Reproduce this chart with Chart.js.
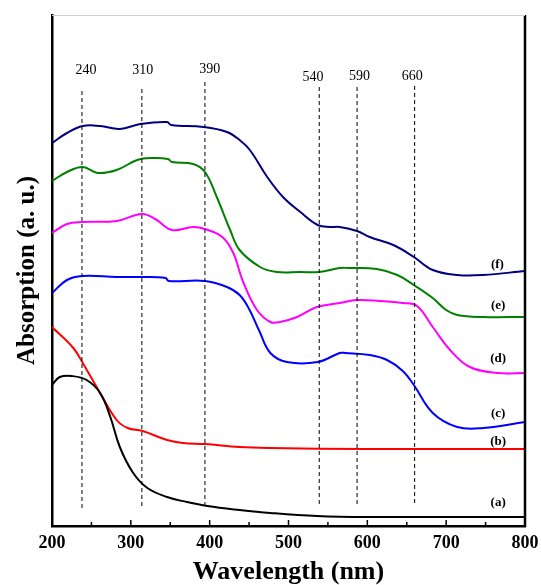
<!DOCTYPE html>
<html>
<head>
<meta charset="utf-8">
<script src="https://cdn.jsdelivr.net/npm/chart.js@4/dist/chart.umd.min.js"></script>
<style>
  html, body { margin: 0; padding: 0; background: #fff; }
  #wrap { width: 541px; height: 585px; }
</style>
</head>
<body>
<div id="wrap"><canvas id="absChart" width="541" height="585"></canvas></div>
<script>
// spectra (wavelength nm, absorption a.u.)
const wlA = [200, 210, 225, 244, 261, 274, 286, 303, 321, 346, 371, 397, 438, 477, 536, 600, 800];
const absA = [1.41, 1.49, 1.50, 1.46, 1.33, 1.09, 0.79, 0.53, 0.38, 0.29, 0.24, 0.20, 0.16, 0.13, 0.10, 0.09, 0.09];

const wlB = [200, 227, 239, 261, 282, 296, 315, 346, 366, 394, 438, 477, 600, 800];
const absB = [1.99, 1.78, 1.63, 1.33, 1.06, 0.98, 0.95, 0.86, 0.83, 0.82, 0.79, 0.78, 0.77, 0.77];

const wlC = [200, 219, 239, 282, 314, 344, 348, 394, 422, 438, 450, 463, 477, 498, 537, 565, 572, 603, 625, 645, 659, 683, 714, 747, 800];
const absC = [2.33, 2.46, 2.50, 2.49, 2.49, 2.48, 2.45, 2.45, 2.39, 2.31, 2.17, 1.95, 1.73, 1.64, 1.64, 1.73, 1.73, 1.71, 1.66, 1.55, 1.41, 1.13, 0.99, 0.98, 1.04];

const wlD = [200, 219, 239, 282, 314, 331, 352, 379, 394, 416, 430, 442, 460, 477, 489, 511, 536, 565, 587, 616, 645, 663, 683, 705, 730, 765, 800];
const absD = [2.93, 3.02, 3.04, 3.05, 3.12, 3.07, 2.96, 2.99, 2.97, 2.89, 2.73, 2.45, 2.16, 2.04, 2.04, 2.09, 2.19, 2.23, 2.26, 2.25, 2.23, 2.20, 1.99, 1.76, 1.59, 1.53, 1.53];

const wlE = [200, 219, 239, 258, 282, 308, 328, 347, 352, 379, 394, 409, 426, 438, 464, 485, 515, 539, 565, 576, 612, 638, 659, 683, 700, 714, 747, 800];
const absE = [3.45, 3.54, 3.59, 3.53, 3.56, 3.66, 3.68, 3.67, 3.64, 3.62, 3.54, 3.29, 2.96, 2.76, 2.59, 2.54, 2.54, 2.54, 2.58, 2.58, 2.57, 2.51, 2.41, 2.28, 2.16, 2.11, 2.09, 2.09];

const wlF = [200, 219, 239, 261, 286, 312, 346, 351, 392, 422, 438, 451, 473, 493, 515, 537, 553, 565, 587, 603, 633, 659, 683, 714, 747, 800];
const absF = [3.83, 3.93, 4.00, 4.00, 3.97, 4.02, 4.04, 4.01, 3.99, 3.94, 3.86, 3.76, 3.49, 3.29, 3.14, 3.01, 2.99, 2.99, 2.95, 2.89, 2.81, 2.69, 2.56, 2.51, 2.51, 2.55];

const curveNames = ['(a)', '(b)', '(c)', '(d)', '(e)', '(f)'];
const curveColors = ['#000000', '#ff0000', '#0000ff', '#ff00ff', '#008000', '#000080'];
const curveLabelX = [766, 766, 766, 766, 766, 765];
const curveLabelY = [0.23, 0.84, 1.12, 1.67, 2.20, 2.61];

// marked peaks: dashed guide lines and their labels
const peakLabels = ['240', '310', '390', '540', '590', '660'];
const peakLineX = [238, 314, 394, 539, 587, 660];
const peakTop = [4.36, 4.38, 4.46, 4.39, 4.39, 4.41];
const peakBottom = [0.18, 0.20, 0.20, 0.22, 0.22, 0.23];
const peakLabelX = [243, 315, 400, 531, 590, 657];
const peakLabelY = [4.56, 4.56, 4.57, 4.49, 4.50, 4.50];

const xTicks = [200, 300, 400, 500, 600, 700, 800];

const SERIF = '"Liberation Serif", "Times New Roman", serif';

const toPts = (xs, ys) => xs.map((x, i) => ({ x: x, y: ys[i] }));

const spectra = [
  toPts(wlA, absA), toPts(wlB, absB), toPts(wlC, absC),
  toPts(wlD, absD), toPts(wlE, absE), toPts(wlF, absF)
];

const datasets = [];

peakLineX.forEach((x, i) => {
  datasets.push({
    data: [{ x: x, y: peakBottom[i] }, { x: x, y: peakTop[i] }],
    borderColor: '#000',
    borderWidth: 1,
    borderDash: [4, 3],
    pointRadius: 0
  });
});

spectra.forEach((pts, i) => {
  datasets.push({
    data: pts,
    borderColor: curveColors[i],
    borderWidth: 2,
    pointRadius: 0,
    tension: 0.4
  });
});

// text labels, inward x ticks and the box around the plot
const annotations = {
  id: 'annotations',
  afterDatasetsDraw(chart) {
    const { ctx, chartArea: a, scales: { x, y } } = chart;
    ctx.save();

    ctx.fillStyle = '#000';
    ctx.textAlign = 'center';
    ctx.textBaseline = 'middle';
    ctx.font = '14px ' + SERIF;
    peakLabels.forEach((t, i) => {
      ctx.fillText(t, x.getPixelForValue(peakLabelX[i]), y.getPixelForValue(peakLabelY[i]));
    });

    ctx.font = 'bold 13px ' + SERIF;
    curveNames.forEach((t, i) => {
      ctx.fillText(t, x.getPixelForValue(curveLabelX[i]), y.getPixelForValue(curveLabelY[i]));
    });

    // ticks pointing into the plot
    ctx.strokeStyle = '#000';
    ctx.lineWidth = 1.5;
    for (let v = 250; v < 800; v += 50) {
      const px = x.getPixelForValue(v);
      const len = v % 100 === 0 ? 6 : 4;
      ctx.beginPath();
      ctx.moveTo(px, a.bottom);
      ctx.lineTo(px, a.bottom - len);
      ctx.stroke();
    }

    // right side and top of the frame
    ctx.lineWidth = 2.5;
    ctx.beginPath();
    ctx.moveTo(a.right, a.top);
    ctx.lineTo(a.right, a.bottom + 1);
    ctx.stroke();
    ctx.strokeStyle = '#d0d0d0';
    ctx.lineWidth = 1;
    ctx.beginPath();
    ctx.moveTo(a.left, a.top + 0.5);
    ctx.lineTo(a.right, a.top + 0.5);
    ctx.stroke();

    ctx.restore();
  }
};

new Chart(document.getElementById('absChart'), {
  type: 'line',
  data: { datasets: datasets },
  options: {
    responsive: false,
    animation: false,
    events: [],
    layout: { padding: { top: 15, right: 16, left: 0, bottom: 0 } },
    plugins: {
      legend: { display: false },
      tooltip: { enabled: false }
    },
    scales: {
      x: {
        type: 'linear',
        min: 200,
        max: 800,
        afterFit: (scale) => {
          scale.height = 59;
          scale.paddingLeft = 0;
          scale.paddingRight = 0;
        },
        afterBuildTicks: (scale) => { scale.ticks = xTicks.map(v => ({ value: v })); },
        grid: { display: false, drawTicks: false },
        border: { color: '#000', width: 2.5 },
        ticks: {
          color: '#000',
          padding: 7,
          maxRotation: 0,
          font: { family: SERIF, size: 18, weight: 'bold' }
        },
        title: {
          display: true,
          text: 'Wavelength (nm)',
          color: '#000',
          padding: { top: 0, bottom: 1 },
          font: { family: SERIF, size: 26, weight: 'bold', lineHeight: 0.9 }
        }
      },
      y: {
        min: 0,
        max: 5.11,
        afterFit: (scale) => { scale.width = 52; },
        grid: { display: false, drawTicks: false },
        border: { color: '#000', width: 2.5 },
        ticks: { display: false },
        title: {
          display: true,
          text: 'Absorption (a. u.)',
          color: '#000',
          padding: { top: 15, bottom: 0 },
          font: { family: SERIF, size: 25, weight: 'bold', lineHeight: 1 }
        }
      }
    }
  },
  plugins: [annotations]
});
</script>
</body>
</html>
